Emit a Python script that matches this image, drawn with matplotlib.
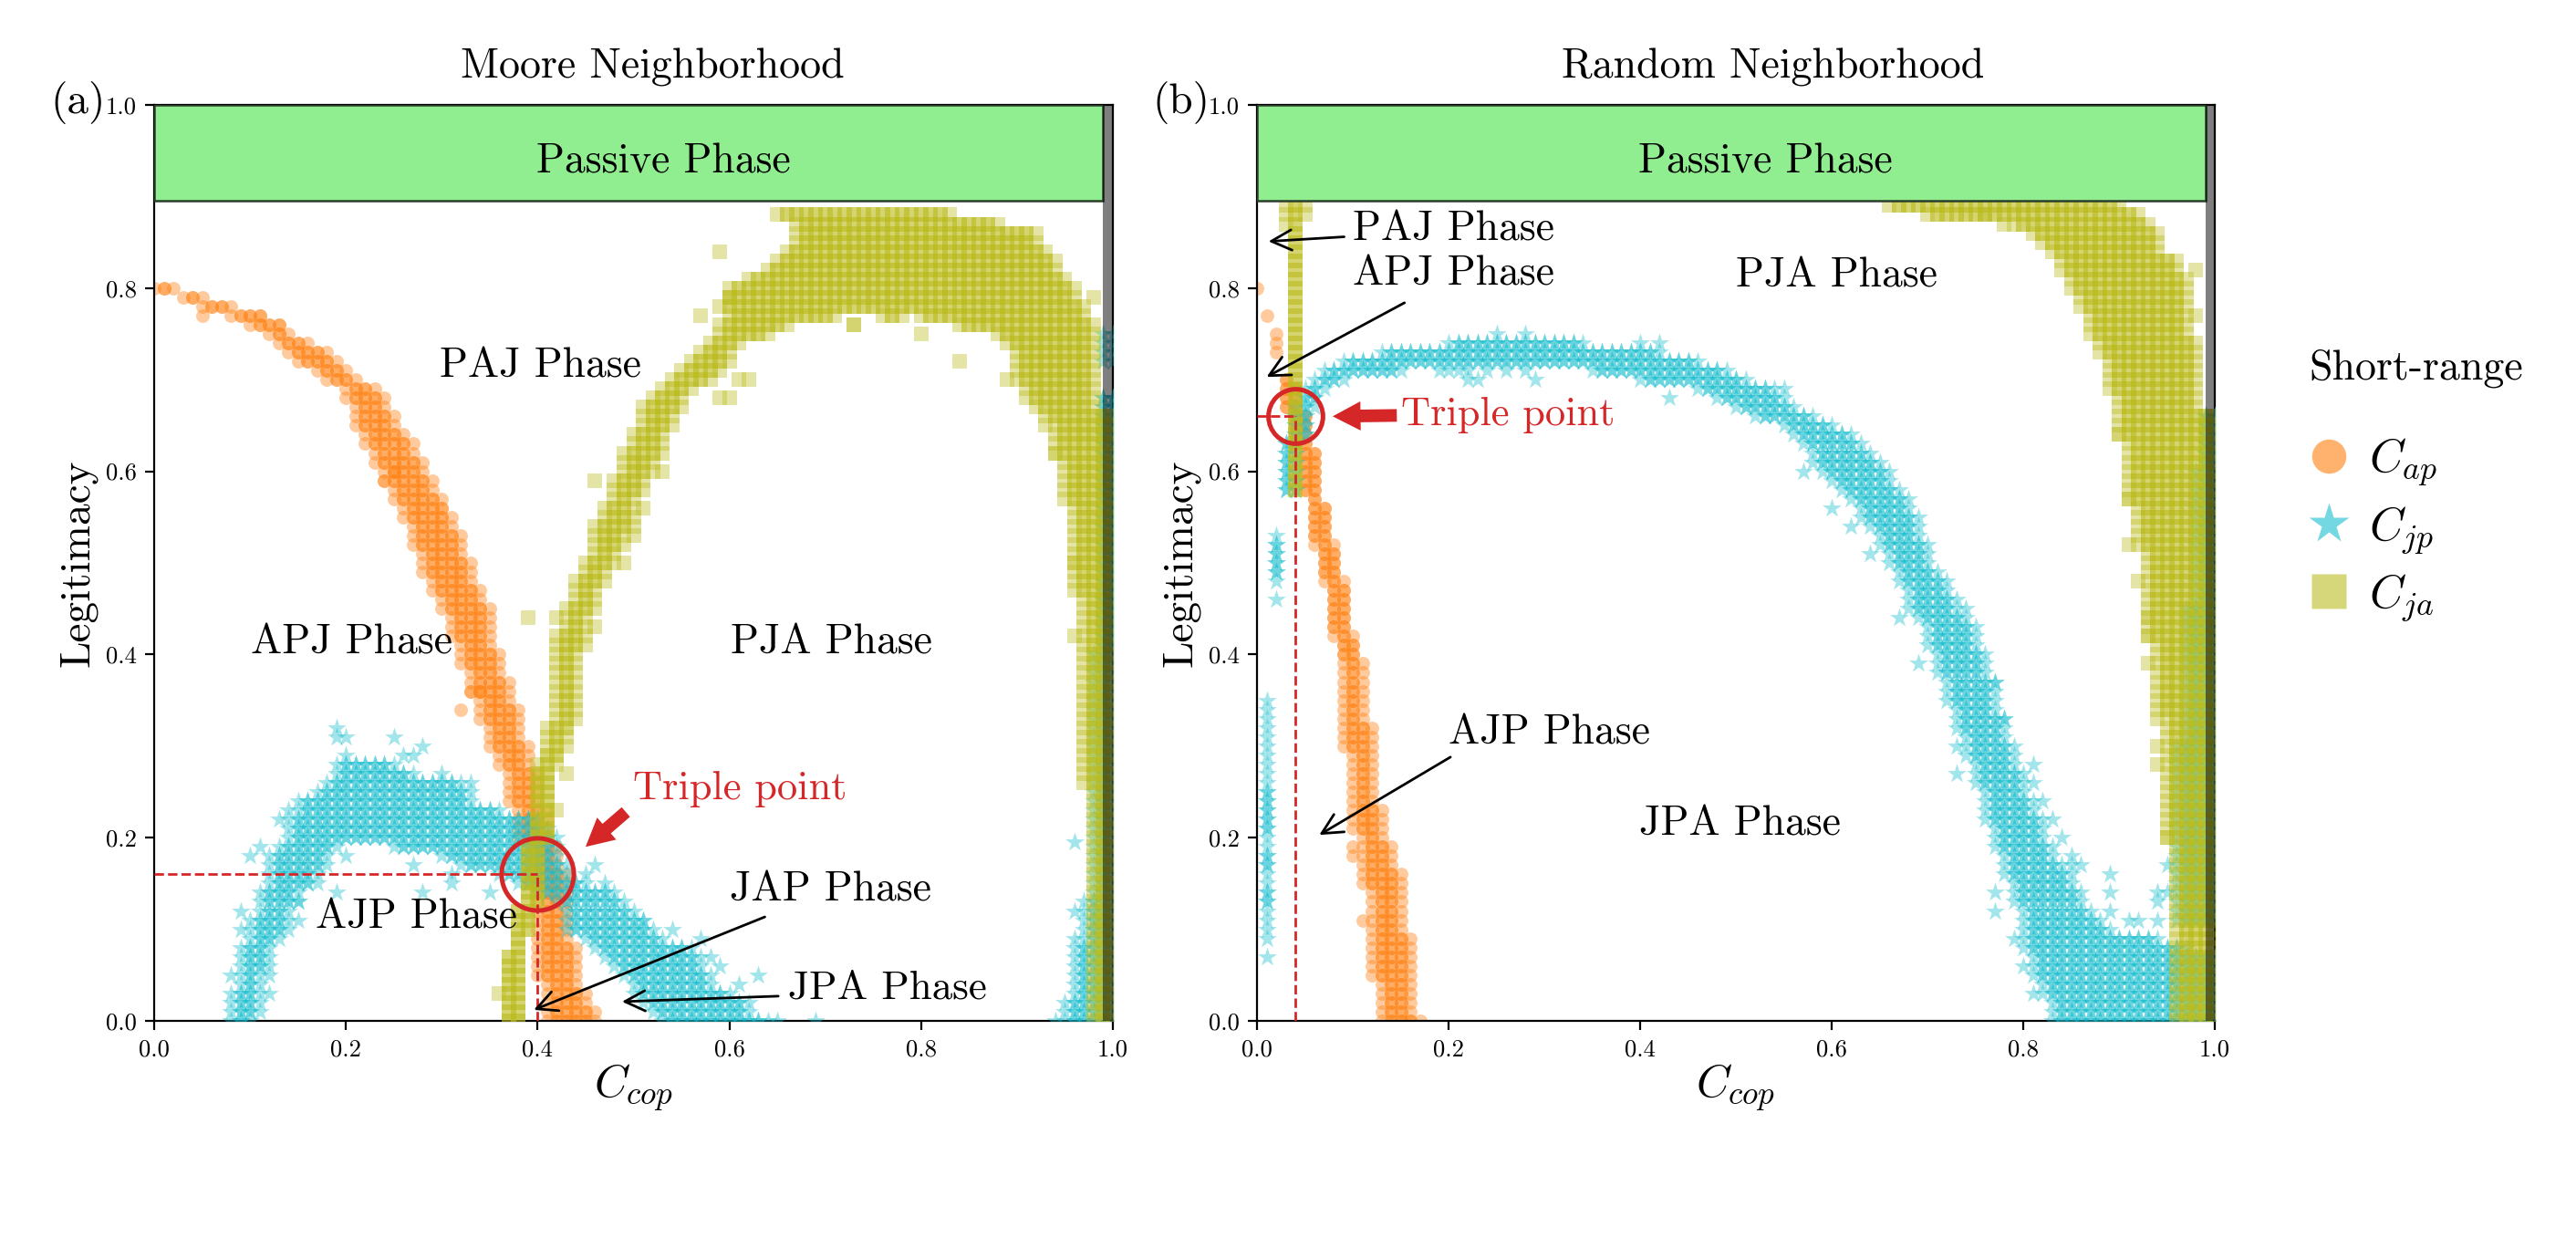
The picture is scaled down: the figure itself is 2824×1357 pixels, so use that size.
import matplotlib
matplotlib.use("Agg")
import matplotlib.pyplot as plt
from matplotlib.lines import Line2D
from matplotlib.patches import Rectangle

plt.rcParams['font.family'] = ['cmr10']
plt.rcParams['mathtext.fontset'] = 'cm'
plt.rcParams['axes.formatter.use_mathtext'] = True

# ---------- data: per-row extents, in hundredths of C_cop, row = Legitimacy * 100 ----------
ticks = [0.0, 0.2, 0.4, 0.6, 0.8, 1.0]
tick_labels = ['0.0', '0.2', '0.4', '0.6', '0.8', '1.0']

# Moore, C_ap (rows 0..80)
m_ap_lo = [41,41,41,41,41,40,40,40,40,40,40, 40,40,40,40,39,39,39,39,39,38, 38,38,38,37,37,37,37,36,36,35,
           35,35,34,34,34,33,33,33,32,32, 32,31,31,31,30,30,29,29,28,28, 28,27,27,27,26,26,25,25,24,24,
           23,23,22,22,21,21,21,20,20,18, 17,15,14,13,12,10,8,5,3,0]
m_ap_hi = [46,46,45,45,44,44,44,44,44,43,43, 43,43,43,43,43,43,42,42,42,41, 41,41,41,40,40,40,40,39,39,39,
           38,38,38,38,37,37,37,36,36,36, 35,35,35,35,35,34,34,33,33,33, 32,32,32,31,31,30,30,29,29,28,
           28,27,27,26,25,25,24,24,23,21, 20,19,18,16,14,13,11,8,5,2]
m_ap_x = [0.32, 0.33, 0.34, 0.24, 0.25, 0.30, 0.05, 0.11, 0.13]
m_ap_y = [0.34, 0.36, 0.36, 0.59, 0.60, 0.56, 0.77, 0.77, 0.76]

# Moore, C_ja left arm (rows 0..79)
m_ja_l_lo = [37,37,37,37,37,37,37,37,38,38, 38,38,38,39,39,39,39,39,39,39, 40,40,40,40,40,40,40,40,40,41,
             41,41,41,42,42,42,42,42,42,42, 42,42,42,43,43,43,44,44,44,45, 45,46,46,46,46,47,47,48,48,48,
             49,49,49,50,50,51,51,51,52,53, 54,55,56,57,58,59,59,60,60,60]
m_ja_l_hi = [38,38,38,38,38,38,38,38,38,38, 39,39,39,40,40,40,40,40,40,40, 41,41,41,42,41,41,41,41,42,42,
             43,43,43,44,44,44,44,44,44,44, 44,45,45,45,45,46,46,46,47,47, 48,48,49,49,50,50,50,50,51,51,
             52,52,53,53,53,54,54,55,55,56, 58,59,60,60,61,64,66,71,59,60]
# Moore, C_ja right arm and crown (rows 0..88)
m_ja_r_lo = [98]*26 + [97]*21 + [96]*10 + [95]*5 + [94,94,94,94,93,92,91,91,90,90,90,90,89,88,84,80,
             59,60,60,62,64,65,66,67,67,67,65]
m_ja_r_hi = [100]*67 + [98]*9 + [98,97,97,96,96,95,94,94,93,92,92,88,83]
# Moore, C_ja pieces under the crown
m_ja_c_rows = [77,76]
m_ja_c_lo = [76,73]
m_ja_c_hi = [78,73]
m_ja_x = [0.59,0.98,0.80,0.84,0.89,0.93,0.94,0.96,0.96,0.57,0.61,0.62,0.59,0.60,0.51,0.50,0.49,0.46,0.53,0.42,0.46,0.43,0.43,0.39,0.36]
m_ja_y = [0.84,0.79,0.75,0.72,0.70,0.65,0.62,0.50,0.42,0.77,0.70,0.70,0.68,0.68,0.56,0.53,0.50,0.59,0.60,0.44,0.43,0.32,0.27,0.44,0.03]

# Moore, C_jp arch (rows 0..28)
m_jp_a_lo = [8,8,8,8,9,9,9,9,9,10, 10,10,11,11,11,12,12,12,12,13, 14,14,14,15,15,17,18,19,19]
m_jp_a_hi = [10,11,11,11,11,11,12,12,12,13, 14,14,14,15,15,17,17,18,18,19, 42,41,40,36,33,33,31,27,25]
# Moore, C_jp right leg (rows 0..19)
m_jp_b_lo = [53,52,51,50,50,49,48,47,46,45, 43,43,43,42,40,38,36,32,30,25]
m_jp_b_hi = [64,62,62,60,58,58,57,57,56,53, 52,51,50,49,48,45,43,43,42,42]
# Moore, C_jp wall at C_cop = 1 (rows 0..68)
m_jp_w_lo = [95,95,95,96,96,96,96,96,96,97,97,97,97,97,98] + [98]*26 + [99]*28
m_jp_w_rows2 = [72,73,74,75]
m_jp_x = [.19,.20,.19,.25,.28,.27,.26,.20,.30,.33,.32,.31,.13,.14,.10,.11,.20,.27,.31,.31,.28,.19,.35,.09,.09,.15,.15,.08,.12,.12,
          .46,.45,.47,.63,.69,.59,.58,.57,.54,.51,.61,.65,.94,.96,.96,.96]
m_jp_y = [.32,.31,.31,.31,.30,.29,.29,.29,.27,.26,.26,.26,.22,.23,.18,.19,.18,.17,.15,.16,.14,.14,.14,.12,.10,.13,.11,.05,.05,.03,
          .17,.16,.15,.05,.00,.06,.07,.09,.10,.11,.04,.00,.00,.12,.09,.195]

# Random, C_ap (rows 0..70)
r_ap_lo = [13,13,13,13,13,12,12,12,12,12, 12,12,12,12,12,11,11,11,11,11, 11,10,10,10,10,10,10,10,10,10,
           9,9,9,9,9,9,9,9,9,9, 9,9,8,8,8,8,8,8,7,7, 7,7,6,6,6,6,6,6,5,5, 5,5,5,4,4,4,4,3,3,3,3]
r_ap_hi = [17,16,16,16,16,16,16,16,16,16, 15,15,15,15,15,15,15,14,14,14, 13,13,13,13,12,12,12,12,12,12,
           12,12,12,11,11,11,11,11,11,11, 10,10,10,9,9,9,9,9,9,8, 8,8,8,7,7,7,7,6,6,6, 6,6,6,5,5,5,5,4,4,4,3]
r_ap_x = [.02,.02,.02,.01,.00,.11,.10,.10]
r_ap_y = [.73,.74,.75,.77,.80,.11,.19,.18]

# Random, C_ja column at C_cop = 0.04
r_ja_col_rows = list(range(58, 90))
r_ja_col_lo = [4]*32
r_ja_top_x = [.03,.05,.03,.05,.03]
r_ja_top_y = [.89,.89,.88,.88,.87]
# Random, C_ja right block (rows 0..89)
r_ja_lo = [96]*20 + [95]*14 + [94]*8 + [93]*10 + [92]*5 + [91]*7 + [90]*5 + [89]*4 + [88]*2 + [87]*3 + \
          [86,86,85,85,84,84,83,82,81,79,70,66]
r_ja_hi = [100]*67 + [98]*8 + [97]*7 + [96,96,94,94,94,93,92,90]
r_ja_x = [.98,.98,.90,.91,.91,.92,.93,.93,.93,.94,.94,.94,.95,.78,.76]
r_ja_y = [.82,.77,.64,.57,.52,.48,.44,.42,.39,.33,.30,.28,.20,.87,.88]

# Random, C_jp main band (rows 0..69)
r_jp_lo = [83,83,83,82,82,81,81,81,80,80, 80,80,80,79,79,79,78,78,78,77, 77,77,76,76,76,76,75,75,75,74,
           74,74,73,73,73,72,72,72,71,71, 71,70,70,70,69,68,68,68,67,67, 66,66,65,65,64,63,63,62,61,60,
           59,58,58,57,56,55,52,50,48,46]
r_jp_hi = [100,100,100,100,100,100,100,100,97,94, 89,88,87,86,86,85,85,84,83,83, 82,82,82,81,81,80,80,80,79,79,
           79,78,78,78,77,77,77,77,76,76, 76,75,75,75,74,73,73,72,72,71, 70,70,70,69,69,69,68,68,67,66,
           66,65,64,63,62,60,58,56,55,54]
# Random, C_jp crown (rows 70..74)
r_jp_c_rows = [70,70,71,71,72,73,74]
r_jp_c_lo = [6,40,7,35,9,13,20]
r_jp_c_hi = [9,51,15,49,46,42,34]
# Random, C_jp near the triple point (rows 58..69)
r_jp_t_rows = [58,59,60,61,62,63,64,65,66,67,68,69]
r_jp_t_lo = [3,3,3,3,3,3,4,4,4,4,5,5]
r_jp_t_hi = [4,4,4,4,4,4,5,5,5,6,6,7]
# Random, C_jp wall (rows 11..66)
r_jp_w_lo = [96]*20 + [97]*15 + [98]*15 + [99]*6
r_jp_col1_y = [.07] + [i/100 for i in [9,10,11,12,13,14,15,16,17,18,19,20,21,22,23,24,25,26,27,28,29,30,31,32,33,34,35]]
r_jp_col1_dup = [.13,.14,.17,.18,.21,.22,.23,.24,.25]
r_jp_col2_y = [.46,.48,.49,.50,.51,.52,.53]
r_jp_col2_dup = [.49,.50,.51,.52]
r_jp_x = [.25,.28,.21,.19,.20,.22,.24,.26,.28,.29,.23,.22,.40,.42,.43,.55,.57,.60,.62,.64,.67,.74,.69,.77,.78,.73,.73,.81,.81,.82,.83,.84,.85,.85,.86,.77,.77,
          .89,.89,.89,.91,.92,.94,.95,.94,.95,.94,.79,.80,.81]
r_jp_y = [.75,.75,.71,.71,.71,.71,.71,.71,.71,.70,.70,.70,.74,.74,.68,.69,.60,.56,.54,.51,.44,.45,.39,.37,.33,.30,.27,.28,.26,.24,.22,.20,.18,.17,.17,.14,.12,
          .16,.14,.12,.11,.11,.14,.17,.13,.14,.11,.09,.06,.03]


def band(lo, hi, rows=None):
    """Turn per-row extents into grid points."""
    rows = list(range(len(lo))) if rows is None else rows
    xs, ys = [], []
    for r, a, b in zip(rows, lo, hi, strict=True):
        for i in range(a, b + 1):
            xs.append(i / 100)
            ys.append(r / 100)
    return xs, ys


ORANGE, CYAN, OLIVE = 'tab:orange', 'tab:cyan', 'tab:olive'
ALPHA = 0.4
S_AP, S_JP, S_JA = 29, 62, 30


def ap(ax, x, y):
    ax.scatter(x, y, s=S_AP, marker='o', c=ORANGE, alpha=ALPHA, linewidths=0, zorder=2)


def jp(ax, x, y):
    ax.scatter(x, y, s=S_JP, marker='*', c=CYAN, alpha=ALPHA, linewidths=0, zorder=3)


def ja(ax, x, y):
    ax.scatter(x, y, s=S_JA, marker='s', c=OLIVE, alpha=ALPHA, linewidths=0, zorder=4)


def layered(draw, ax, lo, hi, rows=None):
    """Band core is overplotted in the reference, its fringe is not."""
    draw(ax, *band(lo, hi, rows))
    in_lo = [a + 1 if b - a >= 2 else a for a, b in zip(lo, hi)]
    in_hi = [b - 1 if b - a >= 2 else b for a, b in zip(lo, hi)]
    draw(ax, *band(in_lo, in_hi, rows))


fig = plt.figure(figsize=(14.12, 6.785), dpi=200)
W, H = 2824, 1357
axa = fig.add_axes([169/W, 1-1119/H, 1051/W, 1004/H])
axb = fig.add_axes([1378/W, 1-1119/H, 1050/W, 1004/H])

# ---------- Moore ----------
layered(ap, axa, m_ap_lo, m_ap_hi)
ap(axa, m_ap_x, m_ap_y)
layered(jp, axa, m_jp_a_lo, m_jp_a_hi)
layered(jp, axa, m_jp_b_lo, m_jp_b_hi)
layered(jp, axa, m_jp_w_lo, [100]*len(m_jp_w_lo))
jp(axa, *band([99]*4, [100]*4, m_jp_w_rows2))
jp(axa, m_jp_x, m_jp_y)
layered(ja, axa, m_ja_l_lo, m_ja_l_hi)
layered(ja, axa, m_ja_r_lo, m_ja_r_hi)
layered(ja, axa, m_ja_c_lo, m_ja_c_hi, m_ja_c_rows)
ja(axa, m_ja_x, m_ja_y)

# ---------- Random ----------
layered(ap, axb, r_ap_lo, r_ap_hi)
ap(axb, r_ap_x, r_ap_y)
layered(jp, axb, r_jp_lo, r_jp_hi)
layered(jp, axb, r_jp_c_lo, r_jp_c_hi, r_jp_c_rows)
layered(jp, axb, r_jp_t_lo, r_jp_t_hi, r_jp_t_rows)
layered(jp, axb, r_jp_w_lo, [100]*len(r_jp_w_lo), list(range(11, 67)))
jp(axb, [0.01]*len(r_jp_col1_y), r_jp_col1_y)
jp(axb, [0.01]*len(r_jp_col1_dup), r_jp_col1_dup)
jp(axb, [0.02]*len(r_jp_col2_y), r_jp_col2_y)
jp(axb, [0.02]*len(r_jp_col2_dup), r_jp_col2_dup)
jp(axb, r_jp_x, r_jp_y)
layered(ja, axb, r_ja_col_lo, r_ja_col_lo, r_ja_col_rows)
ja(axb, r_ja_top_x, r_ja_top_y)
layered(ja, axb, r_ja_lo, r_ja_hi)
ja(axb, r_ja_x, r_ja_y)

TXT = 16.4
for ax in (axa, axb):
    ax.set_xlim(0, 1)
    ax.set_ylim(0, 1)
    ax.set_xticks(ticks, tick_labels, fontsize=9.6)
    ax.set_yticks(ticks, tick_labels, fontsize=9.6)
    ax.add_patch(Rectangle((0, 0.895), 0.99, 0.105, facecolor='#90EE90',
                           edgecolor='#2a3f2a', linewidth=0.9, zorder=6))
    ax.add_patch(Rectangle((0.99, 0), 0.01, 1, facecolor='black', alpha=0.5,
                           edgecolor='none', zorder=7))
    ax.text(0.531, 0.938, 'Passive Phase', ha='center', va='center', fontsize=TXT, zorder=8)
    ax.set_xlabel(r'$C_{cop}$', fontsize=18, labelpad=1)
    ax.set_ylabel('Legitimacy', fontsize=17, labelpad=3.3)

RED = 'tab:red'
axa.set_title('Moore Neighborhood', fontsize=16.5, x=0.52, pad=10.5)
axb.set_title('Random Neighborhood', fontsize=16.5, x=0.539, pad=10.5)
fig.text(86/W, 1-112/H, '(a)', fontsize=17, ha='center', va='center')
fig.text(1295/W, 1-112/H, '(b)', fontsize=17, ha='center', va='center')

for t, x, y in [('PAJ Phase', .403, .714), ('APJ Phase', .206, .413), ('PJA Phase', .706, .413),
                ('AJP Phase', .274, .113)]:
    axa.text(x, y, t, ha='center', va='center', fontsize=TXT, zorder=9)
for t, x, y in [('PJA Phase', .605, .813), ('AJP Phase', .305, .314), ('JPA Phase', .504, .214)]:
    axb.text(x, y, t, ha='center', va='center', fontsize=TXT, zorder=9)
for t, x, y in [('PAJ Phase', .10, .864), ('APJ Phase', .10, .815)]:
    axb.text(x, y, t, ha='left', va='center', fontsize=TXT, zorder=9)
axa.text(.60, .143, 'JAP Phase', ha='left', va='center', fontsize=TXT, zorder=9)
axa.text(.661, .035, 'JPA Phase', ha='left', va='center', fontsize=16.2, zorder=9)
axa.text(.50, .253, 'Triple point', ha='left', va='center', fontsize=16, color=RED, zorder=9)
axb.text(.15, .661, 'Triple point', ha='left', va='center', fontsize=16, color=RED, zorder=9)


def thin(ax, tip, tail):
    ax.annotate('', xy=tip, xytext=tail, zorder=9,
                arrowprops=dict(arrowstyle='->', lw=1.0, color='black', mutation_scale=20,
                                shrinkA=0, shrinkB=0))


def fat(ax, tip, tail):
    ax.annotate('', xy=tip, xytext=tail, zorder=9,
                arrowprops=dict(width=5, headwidth=11.5, headlength=11, facecolor=RED,
                                edgecolor=RED, linewidth=0, shrink=0))


thin(axa, (.396, .012), (.637, .1135))
thin(axa, (.488, .021), (.651, .027))
thin(axb, (.012, .851), (.091, .856))
thin(axb, (.010, .703), (.154, .784))
thin(axb, (.065, .203), (.202, .288))
fat(axa, (.45, .19), (.492, .228))
fat(axb, (.079, .66), (.146, .661))

for ax, cx, cy, ms in [(axa, .40, .16, 28.5), (axb, .04, .66, 21.5)]:
    ax.plot([0, cx], [cy, cy], ls='--', lw=1.0, color=RED, zorder=8)
    ax.plot([cx, cx], [0, cy], ls='--', lw=1.0, color=RED, zorder=8)
    ax.plot([cx], [cy], marker='o', ms=ms, mfc='none', mec=RED, mew=1.8, ls='none', zorder=9)

handles = [
    Line2D([], [], ls='none', marker='o', ms=13.5, mfc=ORANGE, mec='none', alpha=0.6, label=r'$C_{ap}$'),
    Line2D([], [], ls='none', marker='*', ms=16.5, mfc=CYAN, mec='none', alpha=0.6, label=r'$C_{jp}$'),
    Line2D([], [], ls='none', marker='s', ms=13.5, mfc=OLIVE, mec='none', alpha=0.6, label=r'$C_{ja}$'),
]
leg = fig.legend(handles=handles, title='Short-range', title_fontsize=16.5, fontsize=18.4, frameon=False,
                 loc='upper left', bbox_to_anchor=(2531/W, 1-382/H), alignment='left',
                 borderpad=0, borderaxespad=0, labelspacing=0.35, handlelength=0.85, handletextpad=0.45)
leg._legend_box.sep = 19.5

fig.savefig('out.png', dpi=200)
